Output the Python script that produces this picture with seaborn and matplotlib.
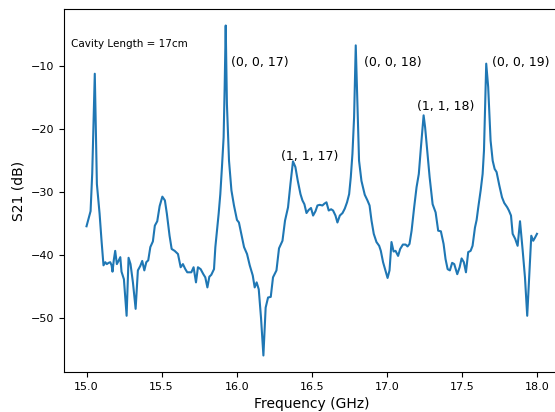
import matplotlib
matplotlib.use("Agg")
import matplotlib.pyplot as plt
import seaborn as sns
import pandas as pd

freq_ghz = [15.000, 15.027, 15.038, 15.055, 15.069, 15.087, 15.100, 15.113, 15.125, 15.135,
            15.147, 15.158, 15.167, 15.173, 15.182, 15.191, 15.202, 15.213, 15.225, 15.233,
            15.249, 15.267, 15.280, 15.293, 15.309, 15.327, 15.342, 15.358, 15.371, 15.385,
            15.398, 15.411, 15.425, 15.442, 15.455, 15.471, 15.487, 15.505, 15.522, 15.535,
            15.553, 15.567, 15.587, 15.609, 15.627, 15.642, 15.658, 15.671, 15.698, 15.713,
            15.729, 15.742, 15.760, 15.778, 15.791, 15.805, 15.818, 15.831, 15.849, 15.858,
            15.869, 15.880, 15.891, 15.902, 15.913, 15.920, 15.927, 15.935, 15.949, 15.965,
            15.982, 16.002, 16.015, 16.031, 16.049, 16.069, 16.087, 16.107, 16.120, 16.133,
            16.147, 16.162, 16.178, 16.193, 16.209, 16.227, 16.242, 16.265, 16.282, 16.305,
            16.322, 16.342, 16.358, 16.375, 16.391, 16.407, 16.425, 16.438, 16.451, 16.465,
            16.480, 16.495, 16.509, 16.525, 16.538, 16.553, 16.571, 16.585, 16.598, 16.613,
            16.629, 16.642, 16.658, 16.671, 16.687, 16.705, 16.720, 16.735, 16.749, 16.760,
            16.771, 16.782, 16.793, 16.805, 16.815, 16.831, 16.853, 16.871, 16.885, 16.898,
            16.913, 16.931, 16.949, 16.960, 16.975, 16.991, 17.005, 17.018, 17.031, 17.045,
            17.058, 17.075, 17.089, 17.107, 17.125, 17.138, 17.151, 17.165, 17.182, 17.198,
            17.213, 17.227, 17.238, 17.245, 17.255, 17.269, 17.285, 17.305, 17.325, 17.342,
            17.360, 17.378, 17.391, 17.405, 17.420, 17.435, 17.449, 17.469, 17.485, 17.498,
            17.513, 17.527, 17.542, 17.558, 17.571, 17.587, 17.598, 17.609, 17.625, 17.638,
            17.647, 17.655, 17.662, 17.675, 17.691, 17.705, 17.718, 17.731, 17.749, 17.767,
            17.782, 17.802, 17.813, 17.827, 17.838, 17.855, 17.871, 17.887, 17.905, 17.920,
            17.935, 17.949, 17.962, 17.975, 17.987, 18.000]

s21_db = [-35.5, -33.1, -27.1, -11.3, -28.8, -33.5, -37.8, -41.7, -41.2, -41.5,
          -41.3, -41.2, -41.7, -42.7, -40.8, -39.4, -41.5, -41.0, -40.4, -42.7,
          -43.9, -49.7, -40.5, -41.5, -44.4, -48.6, -42.5, -41.8, -41.0, -42.5,
          -41.2, -40.9, -38.8, -37.9, -35.4, -34.7, -32.3, -30.8, -31.4, -33.5,
          -37.0, -39.1, -39.4, -39.9, -42.0, -41.5, -42.3, -42.8, -42.8, -42.0,
          -44.4, -42.0, -42.3, -43.1, -43.6, -45.2, -43.5, -43.2, -42.3, -38.8,
          -36.2, -33.5, -30.4, -26.1, -21.4, -13.4, -3.65, -16.1, -25.1, -29.8,
          -32.2, -34.5, -34.9, -36.7, -38.8, -39.9, -41.7, -43.3, -45.2, -44.4,
          -45.5, -50.0, -56.0, -48.4, -46.8, -46.7, -43.6, -42.5, -39.0, -37.8,
          -34.6, -32.5, -28.8, -25.2, -26.1, -28.3, -30.4, -31.4, -32.0, -33.4,
          -32.9, -32.6, -33.8, -33.1, -32.2, -32.1, -32.2, -31.9, -31.7, -33.0,
          -32.8, -33.0, -33.8, -34.9, -33.8, -33.4, -32.7, -31.7, -30.4, -27.7,
          -24.0, -18.2, -6.8, -16.6, -25.1, -28.3, -30.5, -31.4, -32.2, -34.6,
          -36.7, -38.0, -38.6, -39.4, -41.2, -42.5, -43.7, -42.5, -38.0, -39.5,
          -39.4, -40.2, -39.1, -38.4, -38.4, -38.7, -38.3, -36.2, -32.5, -29.3,
          -27.2, -23.0, -20.0, -17.9, -19.8, -23.5, -27.7, -32.0, -33.3, -36.2,
          -36.3, -38.3, -40.7, -42.3, -42.5, -41.3, -41.5, -43.1, -42.0, -40.6,
          -41.2, -42.8, -39.6, -39.4, -38.6, -35.7, -34.5, -32.5, -29.8, -27.2,
          -23.5, -16.1, -9.7, -13.4, -21.9, -25.1, -26.4, -26.9, -29.0, -30.9,
          -31.8, -32.5, -33.0, -33.8, -36.7, -37.5, -38.6, -34.7, -39.4, -43.6,
          -49.7, -43.1, -37.0, -37.8, -37.3, -36.7]

mode_labels = ["(0, 0, 17)", "(1, 1, 17)", "(0, 0, 18)", "(1, 1, 18)", "(0, 0, 19)"]
mode_x = [15.96, 16.298, 16.847, 17.198, 17.698]
mode_y = [-10, -25, -10, -17, -10]
cavity_text = "Cavity Length = 17cm"

df = pd.DataFrame({"Frequency (GHz)": freq_ghz, "S21 (dB)": s21_db})

plt.rcParams["font.family"] = ["DejaVu Sans"]
fig = plt.figure(figsize=(5.55, 4.12), dpi=100)
ax = fig.add_axes([64 / 555, 40 / 412, 495.5 / 555, 363 / 412])

sns.lineplot(data=df, x="Frequency (GHz)", y="S21 (dB)", ax=ax, color="#1f77b4",
             linewidth=1.5, estimator=None, sort=False)

for lab, xx, yy in zip(mode_labels, mode_x, mode_y):
    ax.text(xx, yy, lab, fontsize=9)
ax.text(14.898, -7.0, cavity_text, fontsize=7.5)

ax.set_xticks([15.0, 15.5, 16.0, 16.5, 17.0, 17.5, 18.0])
ax.set_yticks([-10, -20, -30, -40, -50])
ax.tick_params(labelsize=8)
ax.set_xlabel("Frequency (GHz)", fontsize=10)
ax.set_ylabel("S21 (dB)", fontsize=10)

fig.savefig("out.png", dpi=100)
